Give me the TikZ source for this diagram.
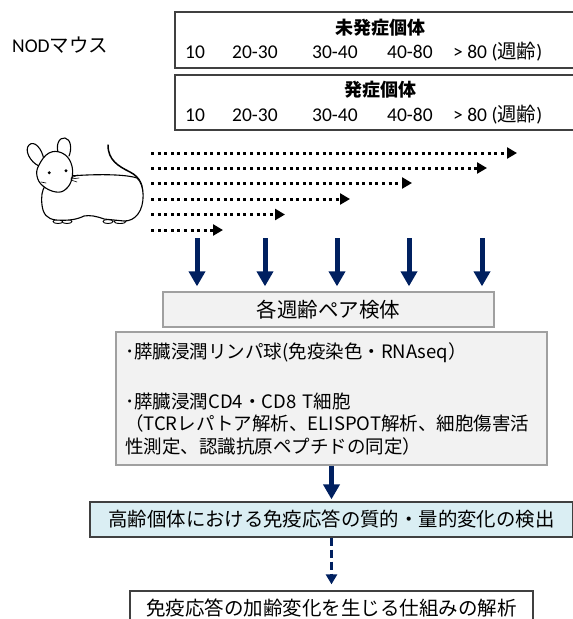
\documentclass[tikz,border=0pt]{standalone}
\usepackage{fontspec}
\setmainfont{Carlito}
\newfontfamily\jp{Noto Sans CJK JP}
\usetikzlibrary{arrows.meta}
\definecolor{navy}{RGB}{0,32,96}
\definecolor{boxgray}{RGB}{242,242,242}
\definecolor{edgegray}{RGB}{160,160,160}
\definecolor{lightblue}{RGB}{218,238,243}
\definecolor{darkedge}{RGB}{64,64,64}

\begin{document}
\begin{tikzpicture}[x=1pt,y=-1pt,
  agebox/.style={draw=darkedge, line width=1.3pt, minimum width=415pt, inner sep=0pt},
  agetitle/.style={inner sep=0pt, font=\jp\bfseries\fontsize{18}{22}\selectfont},
  agelabel/.style={inner sep=0pt, anchor=base west, font=\fontsize{19.5}{23}\selectfont},
  graybox/.style={draw=edgegray, line width=1.3pt, fill=boxgray, inner sep=0pt},
  dotarrow/.style={line width=3pt, dash pattern=on 3pt off 3.6pt, -{Triangle[length=10pt,width=11pt]}},
  navyarrow/.style={navy, line width=5pt, -{Triangle[length=15pt,width=16pt]}},
  dasharrow/.style={navy, line width=3.3pt, dash pattern=on 8pt off 4pt, -{Triangle[length=10pt,width=11pt]}},
  mouse/.style={line width=1.1pt, line cap=round, line join=round}]
\useasboundingbox (0,0) rectangle (573,619);
\clip (0,0) rectangle (573,619);

% strain label
\node[inner sep=0pt, anchor=west, font=\fontsize{19.5}{23}\selectfont] (nod) at (12,45) {NOD{\jp マウス}};

% age groups: non-diabetic and diabetic
\node[agebox, minimum height=56pt] (nondiab) at (382.5,40) {};
\node[agetitle] (nondiabt) at (380,28) {未発症個体};
\node[agelabel] (n1) at (185,58) {10};
\node[agelabel] (n2) at (232,58) {20-30};
\node[agelabel] (n3) at (312,58) {30-40};
\node[agelabel] (n4) at (387,58) {40-80};
\node[agelabel] (n5) at (453,58) {> 80 ({\jp 週齢})};

\node[agebox, minimum height=55pt] (diab) at (382.5,102.5) {};
\node[agetitle] (diabt) at (380,90) {発症個体};
\node[agelabel] (m1) at (185,121) {10};
\node[agelabel] (m2) at (232,121) {20-30};
\node[agelabel] (m3) at (312,121) {30-40};
\node[agelabel] (m4) at (387,121) {40-80};
\node[agelabel] (m5) at (453,121) {> 80 ({\jp 週齢})};

% mouse sketch
\draw[mouse, line width=1.5pt] (108,145) .. controls (108,160) and (118,166) .. (130,172)
  .. controls (140,177) and (144,186) .. (142,197);
\foreach \fx/\fr in {58/5,67/5,108/5,120/6}
  \draw[mouse, line width=0.9pt, fill=white] (\fx,221.5) ellipse ({\fr pt} and 2pt);
\draw[mouse, fill=white] (70,176) .. controls (95,174) and (125,174) .. (137,178)
  .. controls (145,185) and (145,205) .. (138,214)
  .. controls (134,219) and (130,221) .. (124,221)
  -- (104,219)
  .. controls (96,216) and (90,215) .. (84,216)
  .. controls (78,219) and (70,221) .. (56,220)
  .. controls (47,219) and (43,214) .. (42,205)
  .. controls (41,197) and (42,190) .. (45,186)
  -- (55,180) -- cycle;
\draw[mouse, fill=white] (39,166) .. controls (30,162) and (24,150) .. (29,145)
  .. controls (34,140) and (42,148) .. (44,160);
\draw[mouse, fill=white] (59,156) .. controls (55,145) and (59,137) .. (65,138)
  .. controls (71,139) and (72,149) .. (69,156);
\draw[mouse, fill=white] plot[smooth cycle, tension=0.7] coordinates
  {(39,165) (37,176) (43,186) (56,192) (66,189) (72,178) (71,163) (62,153) (49,153)};
\fill (49.3,172.7) circle (1.6pt);
\fill (66,170.7) circle (1.6pt);
\draw[mouse, line width=0.6pt] (71,178) -- (78,175) (71,179) -- (79,178) (71,180) -- (77,182) (46,183) -- (41,182);

% sampling periods
\foreach \i/\y/\xe in {1/153/517, 2/168/487, 3/183/412, 4/199/350, 5/214.5/285, 6/230/223} {
  \coordinate (ds\i) at (151,\y);
  \coordinate (de\i) at (\xe,\y);
  \draw[dotarrow] (ds\i) -- (de\i);
}

% paired samples
\node[graybox, minimum width=331pt, minimum height=35pt, font=\jp\fontsize{20.5}{24}\selectfont]
  (pair) at (328.5,309.5) {各週齢ペア検体};
\foreach \i/\x in {1/197, 2/265, 3/337, 4/409, 5/482} {
  \coordinate (a\i) at (\x,238);
  \draw[navyarrow, shorten >=5pt] (a\i) -- (a\i |- pair.north);
}

% analyses
\node[graybox, minimum width=431pt, minimum height=133pt, text width=413pt, align=left,
  font=\jp\fontsize{18.5}{22.5}\selectfont] (big) at (331.5,398.5)
  {･膵臓浸潤リンパ球(免疫染色・RNAseq）\\[27.5pt]
   ･膵臓浸潤CD4・CD8 T細胞\\
   （TCRレパトア解析、ELISPOT解析、細胞傷害活\\
   性測定、認識抗原ペプチドの同定）};

\node[draw=darkedge, line width=1.3pt, fill=lightblue, minimum width=483pt, minimum height=35pt,
  inner sep=0pt, font=\jp\fontsize{19.4}{23}\selectfont] (detect) at (331.5,519.5)
  {高齢個体における免疫応答の質的・量的変化の検出};
\draw[navyarrow, shorten >=2pt] (big.south) -- (detect.north);

\node[draw=darkedge, line width=1.3pt, fill=white, minimum width=403pt, minimum height=34pt,
  inner sep=0pt, font=\jp\fontsize{19.5}{23}\selectfont] (mech) at (331.5,608)
  {免疫応答の加齢変化を生じる仕組みの解析};
\draw[dasharrow, shorten >=6pt] (detect.south) -- (mech.north);
\end{tikzpicture}
\end{document}
